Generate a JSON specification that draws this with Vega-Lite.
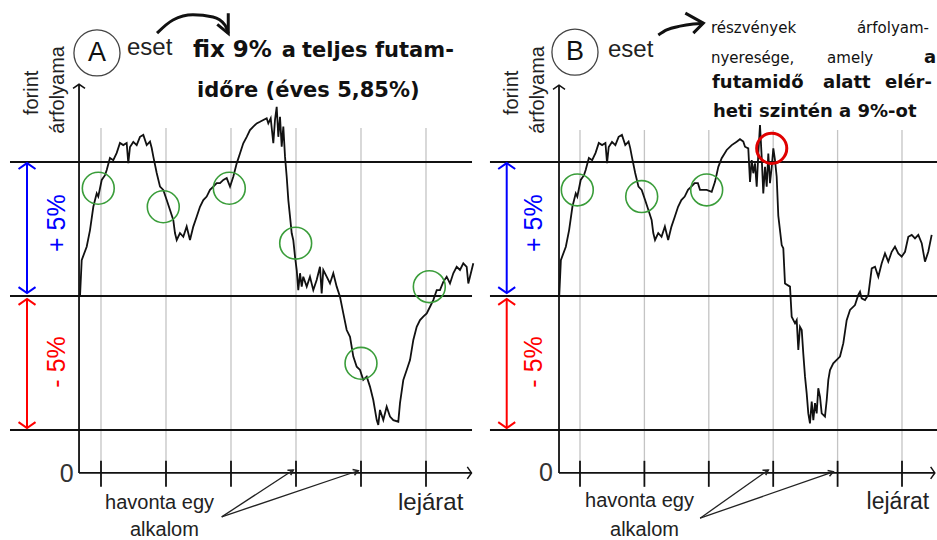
{
"$schema": "https://vega.github.io/schema/vega-lite/v6.json",
"padding": 0,
"spacing": 0,
"bounds": "flush",
"background": "white",
"config": {"view": {"stroke": null}},
"hconcat": [
{
"width": 480, "height": 540,
"encoding": {
 "x": {"field": "m", "type": "quantitative", "scale": {"domain": [-0.5538, 6.8308], "nice": false, "zero": false}, "axis": null},
 "y": {"field": "v", "type": "quantitative", "scale": {"domain": [-9.104, 11.045], "nice": false, "zero": false}, "axis": null}
},
"layer": [
 {"data": {"values": [{"m":1,"v":-6.6,"v2":6.27},{"m":2,"v":-6.6,"v2":6.27},{"m":3,"v":-6.6,"v2":6.27},{"m":4,"v":-6.6,"v2":6.27},{"m":5,"v":-6.6,"v2":6.27},{"m":6,"v":-6.6,"v2":6.27}]},
  "mark": {"type": "rule", "color": "#c4c4c4", "strokeWidth": 1.3},
  "encoding": {"y2": {"field": "v2"}}},
 {"data": {"values": [
   {"m":-0.4,"v":5,"m2":6.708,"v2":5},{"m":-0.4,"v":0,"m2":6.708,"v2":0},{"m":-0.4,"v":-5,"m2":6.708,"v2":-5},
   {"m":0.662,"v":-6.6,"m2":0.662,"v2":7.9},{"m":0.662,"v":-6.6,"m2":6.70,"v2":-6.6},
   {"m":1,"v":-6.15,"m2":1,"v2":-7.12},{"m":2,"v":-6.15,"m2":2,"v2":-7.12},{"m":3,"v":-6.15,"m2":3,"v2":-7.12},
   {"m":4,"v":-6.15,"m2":4,"v2":-7.12},{"m":5,"v":-6.15,"m2":5,"v2":-7.12},{"m":6,"v":-6.15,"m2":6,"v2":-7.12}]},
  "mark": {"type": "rule", "color": "#111", "strokeWidth": 1.8},
  "encoding": {"x2": {"field": "m2"}, "y2": {"field": "v2"}}},
 {"data": {"values": [{"m":0.662,"v":7.9,"irany":"fel"},{"m":6.70,"v":-6.6,"irany":"jobbra"}]},
  "mark": {"type": "point", "filled": false, "color": "#111", "strokeWidth": 1.5, "size": 144, "opacity": 1},
  "encoding": {"shape": {"field": "irany", "type": "nominal", "scale": {"domain": ["fel","le","jobbra"], "range": ["M -1 0.7 L 0 0 L 1 0.7","M -1 -0.7 L 0 0 L 1 -0.7","M -0.7 -1 L 0 0 L -0.7 1"]}, "legend": null}}},
 {"data": {"values": [{"m":-0.138,"v":4.96,"v2":0.11}]},
  "mark": {"type": "rule", "color": "#0000ff", "strokeWidth": 2},
  "encoding": {"y2": {"field": "v2"}}},
 {"data": {"values": [{"m":-0.138,"v":4.96,"irany":"fel"},{"m":-0.138,"v":0.11,"irany":"le"}]},
  "mark": {"type": "point", "filled": false, "color": "#0000ff", "strokeWidth": 2, "size": 289, "opacity": 1},
  "encoding": {"shape": {"field": "irany", "type": "nominal", "scale": {"domain": ["fel","le","jobbra"], "range": ["M -1 0.7 L 0 0 L 1 0.7","M -1 -0.7 L 0 0 L 1 -0.7","M -0.7 -1 L 0 0 L -0.7 1"]}, "legend": null}}},
 {"data": {"values": [{"m":-0.138,"v":-0.11,"v2":-4.93}]},
  "mark": {"type": "rule", "color": "#ff0000", "strokeWidth": 2},
  "encoding": {"y2": {"field": "v2"}}},
 {"data": {"values": [{"m":-0.138,"v":-0.11,"irany":"fel"},{"m":-0.138,"v":-4.93,"irany":"le"}]},
  "mark": {"type": "point", "filled": false, "color": "#ff0000", "strokeWidth": 2, "size": 289, "opacity": 1},
  "encoding": {"shape": {"field": "irany", "type": "nominal", "scale": {"domain": ["fel","le","jobbra"], "range": ["M -1 0.7 L 0 0 L 1 0.7","M -1 -0.7 L 0 0 L 1 -0.7","M -0.7 -1 L 0 0 L -0.7 1"]}, "legend": null}}},
 {"data": {"values": [{"m":2.857,"v":-8.24,"m2":3.958,"v2":-6.49},{"m":2.857,"v":-8.24,"m2":4.958,"v2":-6.52}]},
  "mark": {"type": "rule", "color": "#222", "strokeWidth": 1.3},
  "encoding": {"x2": {"field": "m2"}, "y2": {"field": "v2"}}},
 {"data": {"values": [{"m":3.958,"v":-6.49}]},
  "mark": {"type": "point", "filled": false, "color": "#222", "strokeWidth": 1.5, "size": 100, "angle": -33, "opacity": 1, "shape": "M -1 -0.6 L 0 0 L -1 0.6"}},
 {"data": {"values": [{"m":4.958,"v":-6.52}]},
  "mark": {"type": "point", "filled": false, "color": "#222", "strokeWidth": 1.5, "size": 100, "angle": -18.6, "opacity": 1, "shape": "M -1 -0.6 L 0 0 L -1 0.6"}},
 {"data": {"values": [
  {"m":0.677,"v":-0.03},{"m":0.703,"v":1.34},{"m":0.780,"v":1.84},{"m":0.831,"v":2.46},{"m":0.882,"v":3.33},{"m":0.934,"v":3.83},{"m":0.958,"v":3.71},{"m":1.011,"v":4.33},{"m":1.062,"v":4.51},{"m":1.088,"v":4.70},{"m":1.138,"v":5.15},{"m":1.189,"v":5.07},{"m":1.242,"v":5.34},{"m":1.292,"v":5.71},{"m":1.343,"v":5.63},{"m":1.395,"v":5.71},{"m":1.420,"v":4.96},{"m":1.446,"v":5.56},{"m":1.497,"v":5.75},{"m":1.549,"v":5.63},{"m":1.600,"v":5.94},{"m":1.651,"v":6.01},{"m":1.703,"v":5.63},{"m":1.754,"v":5.76},{"m":1.780,"v":5.52},{"m":1.805,"v":5.20},{"m":1.857,"v":4.59},{"m":1.908,"v":4.08},{"m":1.958,"v":3.96},{"m":2.011,"v":3.58},{"m":2.062,"v":3.21},{"m":2.112,"v":2.84},{"m":2.138,"v":2.35},{"m":2.165,"v":2.09},{"m":2.215,"v":2.35},{"m":2.266,"v":2.21},{"m":2.318,"v":2.59},{"m":2.369,"v":2.09},{"m":2.420,"v":2.59},{"m":2.472,"v":2.96},{"m":2.523,"v":3.33},{"m":2.574,"v":3.58},{"m":2.626,"v":3.71},{"m":2.677,"v":3.96},{"m":2.728,"v":4.08},{"m":2.780,"v":4.21},{"m":2.831,"v":4.21},{"m":2.882,"v":4.33},{"m":2.934,"v":4.40},{"m":2.985,"v":4.08},{"m":3.035,"v":4.45},{"m":3.088,"v":4.95},{"m":3.138,"v":5.32},{"m":3.189,"v":5.70},{"m":3.242,"v":5.94},{"m":3.292,"v":6.19},{"m":3.343,"v":6.32},{"m":3.395,"v":6.44},{"m":3.446,"v":6.50},{"m":3.497,"v":6.57},{"m":3.549,"v":6.63},{"m":3.574,"v":6.44},{"m":3.611,"v":6.63},{"m":3.651,"v":5.70},{"m":3.677,"v":6.57},{"m":3.703,"v":7.06},{"m":3.728,"v":5.94},{"m":3.754,"v":6.69},{"m":3.780,"v":5.57},{"m":3.805,"v":6.32},{"m":3.831,"v":5.20},{"m":3.857,"v":4.45},{"m":3.882,"v":3.58},{"m":3.908,"v":2.96},{"m":3.934,"v":2.34},{"m":3.958,"v":2.09},{"m":3.985,"v":1.47},{"m":4.011,"v":0.97},{"m":4.035,"v":0.22},{"m":4.062,"v":0.85},{"m":4.088,"v":0.35},{"m":4.112,"v":0.72},{"m":4.165,"v":0.35},{"m":4.215,"v":0.72},{"m":4.266,"v":0.22},{"m":4.318,"v":0.60},{"m":4.369,"v":1.09},{"m":4.395,"v":0.10},{"m":4.420,"v":0.97},{"m":4.472,"v":0.72},{"m":4.523,"v":0.47},{"m":4.574,"v":0.85},{"m":4.626,"v":0.35},{"m":4.677,"v":-0.03},{"m":4.728,"v":-0.65},{"m":4.780,"v":-1.27},{"m":4.831,"v":-1.52},{"m":4.882,"v":-2.26},{"m":4.934,"v":-2.64},{"m":4.985,"v":-2.76},{"m":5.035,"v":-3.13},{"m":5.088,"v":-3.01},{"m":5.138,"v":-3.38},{"m":5.189,"v":-3.88},{"m":5.242,"v":-4.63},{"m":5.266,"v":-4.81},{"m":5.292,"v":-4.25},{"m":5.343,"v":-4.63},{"m":5.395,"v":-4.13},{"m":5.446,"v":-4.50},{"m":5.497,"v":-4.63},{"m":5.574,"v":-4.69},{"m":5.600,"v":-4.00},{"m":5.651,"v":-3.13},{"m":5.703,"v":-2.76},{"m":5.754,"v":-2.39},{"m":5.805,"v":-1.64},{"m":5.857,"v":-1.15},{"m":5.908,"v":-0.90},{"m":5.958,"v":-0.77},{"m":6.011,"v":-0.65},{"m":6.062,"v":-0.40},{"m":6.112,"v":-0.15},{"m":6.165,"v":0.22},{"m":6.215,"v":0.22},{"m":6.266,"v":0.53},{"m":6.318,"v":0.72},{"m":6.369,"v":0.47},{"m":6.420,"v":0.85},{"m":6.472,"v":1.09},{"m":6.523,"v":0.97},{"m":6.574,"v":1.22},{"m":6.626,"v":1.09},{"m":6.651,"v":0.47},{"m":6.728,"v":1.22}]},
  "mark": {"type": "line", "color": "#111", "strokeWidth": 1.8},
  "encoding": {"order": {"field": "m", "type": "quantitative"}}},
 {"data": {"values": [{"m":0.958,"v":4.02},{"m":1.958,"v":3.33},{"m":2.974,"v":4.02},{"m":3.995,"v":1.97},{"m":5.0,"v":-2.51},{"m":6.051,"v":0.35}]},
  "mark": {"type": "point", "shape": "circle", "filled": false, "color": "#3a9d3a", "strokeWidth": 1.6, "size": 1018, "opacity": 1}},
 {"data": {"values": [{"m":0.938,"v":9.07}]},
  "mark": {"type": "point", "shape": "circle", "filled": false, "color": "#444", "strokeWidth": 1.3, "size": 2124, "opacity": 1}},
 {"data": {"values": [{"m":1.862,"v":9.81},{"m":2.108,"v":10.30},{"m":2.415,"v":10.49},{"m":2.723,"v":10.41},{"m":2.908,"v":10.11},{"m":2.958,"v":9.80}]},
  "mark": {"type": "line", "color": "#111", "strokeWidth": 3, "interpolate": "monotone"}},
 {"data": {"values": [{"m":2.958,"v":9.80}]},
  "mark": {"type": "point", "filled": false, "color": "#111", "strokeWidth": 3, "size": 400, "opacity": 1, "shape": "M 0 -2 L 0 0 L -1.1 -0.9"}},
 {"data": {"values": [{"m":1.062,"v":-7.72,"t":"havonta egy"},{"m":1.446,"v":-8.73,"t":"alkalom"}]},
  "mark": {"type": "text", "font": "Liberation Sans", "fontSize": 20, "align": "left", "baseline": "middle", "color": "#222"},
  "encoding": {"text": {"field": "t"}}},
 {"data": {"values": [{"m":5.569,"v":-7.72,"t":"lejárat"}]},
  "mark": {"type": "text", "font": "Liberation Sans", "fontSize": 24, "align": "left", "baseline": "middle", "color": "#222"},
  "encoding": {"text": {"field": "t"}}},
 {"data": {"values": [{"m":0.472,"v":-6.64,"t":"0"}]},
  "mark": {"type": "text", "font": "Liberation Sans", "fontSize": 25, "align": "center", "baseline": "middle", "color": "#333"},
  "encoding": {"text": {"field": "t"}}},
 {"data": {"values": [{"m":1.4,"v":9.27,"t":"eset"}]},
  "mark": {"type": "text", "font": "Liberation Sans", "fontSize": 24, "align": "left", "baseline": "middle", "color": "#222"},
  "encoding": {"text": {"field": "t"}}},
 {"data": {"values": [{"m":0.938,"v":9.07,"t":"A"}]},
  "mark": {"type": "text", "font": "Liberation Sans", "fontSize": 27, "align": "center", "baseline": "middle", "color": "#111"},
  "encoding": {"text": {"field": "t"}}},
 {"data": {"values": [{"m":-0.062,"v":7.58,"t":"forint"},{"m":0.338,"v":7.69,"t":"árfolyama"}]},
  "mark": {"type": "text", "font": "Liberation Sans", "fontSize": 20, "angle": 270, "align": "center", "baseline": "middle", "color": "#222"},
  "encoding": {"text": {"field": "t"}}},
 {"data": {"values": [{"m":0.323,"v":2.72,"t":"+ 5%"}]},
  "mark": {"type": "text", "font": "Liberation Sans", "fontSize": 25, "angle": 270, "align": "center", "baseline": "middle", "color": "#0000ff"},
  "encoding": {"text": {"field": "t"}}},
 {"data": {"values": [{"m":0.323,"v":-2.46,"t":"- 5%"}]},
  "mark": {"type": "text", "font": "Liberation Sans", "fontSize": 25, "angle": 270, "align": "center", "baseline": "middle", "color": "#ff0000"},
  "encoding": {"text": {"field": "t"}}},
 {"data": {"values": [{"m":2.415,"v":8.92,"t":"fix 9%"}]},
  "mark": {"type": "text", "font": "DejaVu Sans", "fontWeight": "bold", "fontSize": 23, "align": "left", "baseline": "alphabetic", "color": "#111"},
  "encoding": {"text": {"field": "t"}}},
 {"data": {"values": [{"m":3.78,"v":8.92,"t":"a"},{"m":4.092,"v":8.92,"t":"teljes"},{"m":5.215,"v":8.92,"t":"futam-"}]},
  "mark": {"type": "text", "font": "DejaVu Sans", "fontWeight": "bold", "fontSize": 21, "align": "left", "baseline": "alphabetic", "color": "#111"},
  "encoding": {"text": {"field": "t"}}},
 {"data": {"values": [{"m":2.477,"v":7.44,"t":"időre (éves 5,85%)"}]},
  "mark": {"type": "text", "font": "DejaVu Sans", "fontWeight": "bold", "fontSize": 21, "align": "left", "baseline": "alphabetic", "color": "#111"},
  "encoding": {"text": {"field": "t"}}}
]
},
{
"width": 457, "height": 540,
"encoding": {
 "x": {"field": "m", "type": "quantitative", "scale": {"domain": [-0.5528, 6.5435], "nice": false, "zero": false}, "axis": null},
 "y": {"field": "v", "type": "quantitative", "scale": {"domain": [-9.104, 11.045], "nice": false, "zero": false}, "axis": null}
},
"layer": [
 {"data": {"values": [{"m":1,"v":-6.6,"v2":6.19},{"m":2,"v":-6.6,"v2":6.19},{"m":3,"v":-6.6,"v2":6.19},{"m":4,"v":-6.6,"v2":6.19},{"m":5,"v":-6.6,"v2":6.19},{"m":6,"v":-6.6,"v2":6.19}]},
  "mark": {"type": "rule", "color": "#c4c4c4", "strokeWidth": 1.3},
  "encoding": {"y2": {"field": "v2"}}},
 {"data": {"values": [
   {"m":-0.398,"v":5,"m2":6.6,"v2":5},{"m":-0.398,"v":0,"m2":6.6,"v2":0},{"m":-0.398,"v":-5,"m2":6.6,"v2":-5},
   {"m":0.674,"v":-6.6,"m2":0.674,"v2":7.87},{"m":0.674,"v":-6.6,"m2":6.51,"v2":-6.6},
   {"m":1,"v":-6.15,"m2":1,"v2":-7.12},{"m":2,"v":-6.15,"m2":2,"v2":-7.12},{"m":3,"v":-6.15,"m2":3,"v2":-7.12},
   {"m":4,"v":-6.15,"m2":4,"v2":-7.12},{"m":5,"v":-6.15,"m2":5,"v2":-7.12},{"m":6,"v":-6.15,"m2":6,"v2":-7.12}]},
  "mark": {"type": "rule", "color": "#111", "strokeWidth": 1.8, "clip": true},
  "encoding": {"x2": {"field": "m2"}, "y2": {"field": "v2"}}},
 {"data": {"values": [{"m":0.674,"v":7.87,"irany":"fel"},{"m":6.51,"v":-6.6,"irany":"jobbra"}]},
  "mark": {"type": "point", "filled": false, "color": "#111", "strokeWidth": 1.5, "size": 144, "opacity": 1, "clip": true},
  "encoding": {"shape": {"field": "irany", "type": "nominal", "scale": {"domain": ["fel","le","jobbra"], "range": ["M -1 0.7 L 0 0 L 1 0.7","M -1 -0.7 L 0 0 L 1 -0.7","M -0.7 -1 L 0 0 L -0.7 1"]}, "legend": null}}},
 {"data": {"values": [{"m":-0.138,"v":4.96,"v2":0.11}]},
  "mark": {"type": "rule", "color": "#0000ff", "strokeWidth": 2},
  "encoding": {"y2": {"field": "v2"}}},
 {"data": {"values": [{"m":-0.138,"v":4.96,"irany":"fel"},{"m":-0.138,"v":0.11,"irany":"le"}]},
  "mark": {"type": "point", "filled": false, "color": "#0000ff", "strokeWidth": 2, "size": 289, "opacity": 1},
  "encoding": {"shape": {"field": "irany", "type": "nominal", "scale": {"domain": ["fel","le","jobbra"], "range": ["M -1 0.7 L 0 0 L 1 0.7","M -1 -0.7 L 0 0 L 1 -0.7","M -0.7 -1 L 0 0 L -0.7 1"]}, "legend": null}}},
 {"data": {"values": [{"m":-0.138,"v":-0.11,"v2":-4.93}]},
  "mark": {"type": "rule", "color": "#ff0000", "strokeWidth": 2},
  "encoding": {"y2": {"field": "v2"}}},
 {"data": {"values": [{"m":-0.138,"v":-0.11,"irany":"fel"},{"m":-0.138,"v":-4.93,"irany":"le"}]},
  "mark": {"type": "point", "filled": false, "color": "#ff0000", "strokeWidth": 2, "size": 289, "opacity": 1},
  "encoding": {"shape": {"field": "irany", "type": "nominal", "scale": {"domain": ["fel","le","jobbra"], "range": ["M -1 0.7 L 0 0 L 1 0.7","M -1 -0.7 L 0 0 L 1 -0.7","M -0.7 -1 L 0 0 L -0.7 1"]}, "legend": null}}},
 {"data": {"values": [{"m":2.865,"v":-8.29,"m2":3.924,"v2":-6.49},{"m":2.865,"v":-8.29,"m2":4.933,"v2":-6.56}]},
  "mark": {"type": "rule", "color": "#222", "strokeWidth": 1.3},
  "encoding": {"x2": {"field": "m2"}, "y2": {"field": "v2"}}},
 {"data": {"values": [{"m":3.924,"v":-6.49}]},
  "mark": {"type": "point", "filled": false, "color": "#222", "strokeWidth": 1.5, "size": 100, "angle": -33, "opacity": 1, "shape": "M -1 -0.6 L 0 0 L -1 0.6"}},
 {"data": {"values": [{"m":4.933,"v":-6.56}]},
  "mark": {"type": "point", "filled": false, "color": "#222", "strokeWidth": 1.5, "size": 100, "angle": -18.6, "opacity": 1, "shape": "M -1 -0.6 L 0 0 L -1 0.6"}},
 {"data": {"values": [
  {"m":0.677,"v":-0.03},{"m":0.703,"v":1.34},{"m":0.780,"v":1.84},{"m":0.831,"v":2.46},{"m":0.882,"v":3.33},{"m":0.934,"v":3.83},{"m":0.958,"v":3.71},{"m":1.011,"v":4.33},{"m":1.062,"v":4.51},{"m":1.088,"v":4.70},{"m":1.138,"v":5.15},{"m":1.189,"v":5.07},{"m":1.242,"v":5.34},{"m":1.292,"v":5.71},{"m":1.343,"v":5.63},{"m":1.395,"v":5.71},{"m":1.420,"v":4.96},{"m":1.446,"v":5.56},{"m":1.497,"v":5.75},{"m":1.549,"v":5.63},{"m":1.600,"v":5.94},{"m":1.651,"v":6.01},{"m":1.703,"v":5.63},{"m":1.754,"v":5.76},{"m":1.780,"v":5.52},{"m":1.805,"v":5.20},{"m":1.857,"v":4.59},{"m":1.908,"v":4.08},{"m":1.958,"v":3.96},{"m":2.011,"v":3.58},{"m":2.062,"v":3.21},{"m":2.112,"v":2.84},{"m":2.138,"v":2.35},{"m":2.165,"v":2.09},{"m":2.215,"v":2.35},{"m":2.266,"v":2.21},{"m":2.318,"v":2.59},{"m":2.369,"v":2.09},{"m":2.420,"v":2.59},{"m":2.472,"v":2.96},{"m":2.523,"v":3.33},{"m":2.574,"v":3.58},{"m":2.626,"v":3.71},{"m":2.677,"v":3.96},{"m":2.728,"v":4.08},{"m":2.780,"v":4.21},{"m":2.831,"v":4.21},
  {"m":2.863,"v":3.96},{"m":2.967,"v":3.96},{"m":3.045,"v":3.89},{"m":3.096,"v":4.26},{"m":3.148,"v":4.82},{"m":3.200,"v":5.14},{"m":3.278,"v":5.45},{"m":3.356,"v":5.63},{"m":3.433,"v":5.76},{"m":3.484,"v":5.85},{"m":3.536,"v":5.76},{"m":3.562,"v":5.57},{"m":3.613,"v":5.51},{"m":3.640,"v":4.26},{"m":3.666,"v":5.07},{"m":3.691,"v":4.58},{"m":3.717,"v":4.95},{"m":3.744,"v":4.08},{"m":3.769,"v":5.32},{"m":3.795,"v":6.38},{"m":3.821,"v":5.20},{"m":3.846,"v":3.83},{"m":3.873,"v":4.82},{"m":3.899,"v":4.08},{"m":3.924,"v":5.32},{"m":3.950,"v":4.21},{"m":3.977,"v":4.82},{"m":4.002,"v":5.51},{"m":4.028,"v":5.07},{"m":4.054,"v":4.45},{"m":4.079,"v":3.00},{"m":4.132,"v":1.90},{"m":4.157,"v":1.78},{"m":4.183,"v":0.47},{"m":4.261,"v":0.35},{"m":4.287,"v":-0.77},{"m":4.339,"v":-1.02},{"m":4.365,"v":-0.90},{"m":4.390,"v":-2.01},{"m":4.416,"v":-1.15},{"m":4.443,"v":-1.27},{"m":4.467,"v":-2.14},{"m":4.494,"v":-3.01},{"m":4.520,"v":-3.63},{"m":4.545,"v":-4.38},{"m":4.571,"v":-4.75},{"m":4.598,"v":-3.94},{"m":4.623,"v":-4.63},{"m":4.649,"v":-4.00},{"m":4.675,"v":-4.38},{"m":4.700,"v":-3.44},{"m":4.727,"v":-3.76},{"m":4.753,"v":-4.38},{"m":4.804,"v":-4.50},{"m":4.831,"v":-3.88},{"m":4.856,"v":-3.13},{"m":4.882,"v":-2.76},{"m":4.933,"v":-2.51},{"m":5.037,"v":-2.26},{"m":5.089,"v":-1.76},{"m":5.141,"v":-0.90},{"m":5.193,"v":-0.52},{"m":5.270,"v":-0.34},{"m":5.321,"v":0.04},{"m":5.348,"v":0.16},{"m":5.374,"v":-0.09},{"m":5.425,"v":-0.15},{"m":5.477,"v":0.04},{"m":5.530,"v":1.03},{"m":5.581,"v":1.09},{"m":5.632,"v":0.72},{"m":5.685,"v":1.22},{"m":5.736,"v":1.59},{"m":5.787,"v":1.28},{"m":5.840,"v":1.65},{"m":5.891,"v":1.84},{"m":5.942,"v":1.59},{"m":5.995,"v":1.47},{"m":6.047,"v":1.65},{"m":6.098,"v":2.21},{"m":6.151,"v":2.28},{"m":6.202,"v":2.15},{"m":6.253,"v":2.28},{"m":6.306,"v":1.97},{"m":6.357,"v":1.28},{"m":6.408,"v":1.65},{"m":6.461,"v":2.28}]},
  "mark": {"type": "line", "color": "#111", "strokeWidth": 1.8},
  "encoding": {"order": {"field": "m", "type": "quantitative"}}},
 {"data": {"values": [{"m":0.958,"v":3.96},{"m":1.958,"v":3.71},{"m":2.967,"v":3.96}]},
  "mark": {"type": "point", "shape": "circle", "filled": false, "color": "#3a9d3a", "strokeWidth": 1.6, "size": 1018, "opacity": 1}},
 {"data": {"values": [{"m":3.977,"v":5.51}]},
  "mark": {"type": "point", "shape": "circle", "filled": false, "color": "#e00000", "strokeWidth": 3, "size": 908, "opacity": 1}},
 {"data": {"values": [{"m":0.922,"v":9.10}]},
  "mark": {"type": "point", "shape": "circle", "filled": false, "color": "#444", "strokeWidth": 1.3, "size": 2124, "opacity": 1}},
 {"data": {"values": [{"m":2.216,"v":9.74},{"m":2.346,"v":9.93},{"m":2.553,"v":10.07},{"m":2.759,"v":10.15},{"m":2.915,"v":10.18}]},
  "mark": {"type": "line", "color": "#111", "strokeWidth": 3, "interpolate": "monotone"}},
 {"data": {"values": [{"m":2.915,"v":10.18}]},
  "mark": {"type": "point", "filled": false, "color": "#111", "strokeWidth": 3, "size": 400, "opacity": 1, "shape": "M -1.8 -1 L 0 0 L -1 1"}},
 {"data": {"values": [{"m":1.078,"v":-7.65,"t":"havonta egy"},{"m":1.466,"v":-8.73,"t":"alkalom"}]},
  "mark": {"type": "text", "font": "Liberation Sans", "fontSize": 20, "align": "left", "baseline": "middle", "color": "#222"},
  "encoding": {"text": {"field": "t"}}},
 {"data": {"values": [{"m":5.45,"v":-7.68,"t":"lejárat"}]},
  "mark": {"type": "text", "font": "Liberation Sans", "fontSize": 23, "align": "left", "baseline": "middle", "color": "#222"},
  "encoding": {"text": {"field": "t"}}},
 {"data": {"values": [{"m":0.472,"v":-6.62,"t":"0"}]},
  "mark": {"type": "text", "font": "Liberation Sans", "fontSize": 25, "align": "center", "baseline": "middle", "color": "#333"},
  "encoding": {"text": {"field": "t"}}},
 {"data": {"values": [{"m":1.435,"v":9.18,"t":"eset"}]},
  "mark": {"type": "text", "font": "Liberation Sans", "fontSize": 24, "align": "left", "baseline": "middle", "color": "#222"},
  "encoding": {"text": {"field": "t"}}},
 {"data": {"values": [{"m":0.922,"v":9.10,"t":"B"}]},
  "mark": {"type": "text", "font": "Liberation Sans", "fontSize": 27, "align": "center", "baseline": "middle", "color": "#111"},
  "encoding": {"text": {"field": "t"}}},
 {"data": {"values": [{"m":-0.056,"v":7.58,"t":"forint"},{"m":0.348,"v":7.69,"t":"árfolyama"}]},
  "mark": {"type": "text", "font": "Liberation Sans", "fontSize": 20, "angle": 270, "align": "center", "baseline": "middle", "color": "#222"},
  "encoding": {"text": {"field": "t"}}},
 {"data": {"values": [{"m":0.29,"v":2.72,"t":"+ 5%"}]},
  "mark": {"type": "text", "font": "Liberation Sans", "fontSize": 25, "angle": 270, "align": "center", "baseline": "middle", "color": "#0000ff"},
  "encoding": {"text": {"field": "t"}}},
 {"data": {"values": [{"m":0.29,"v":-2.46,"t":"- 5%"}]},
  "mark": {"type": "text", "font": "Liberation Sans", "fontSize": 25, "angle": 270, "align": "center", "baseline": "middle", "color": "#ff0000"},
  "encoding": {"text": {"field": "t"}}},
 {"data": {"values": [{"m":3.034,"v":9.80,"t":"részvények"},{"m":5.30,"v":9.80,"t":"árfolyam-"},{"m":3.034,"v":8.68,"t":"nyeresége,"},{"m":4.837,"v":8.68,"t":"amely"}]},
  "mark": {"type": "text", "font": "DejaVu Sans", "fontSize": 15, "align": "left", "baseline": "alphabetic", "color": "#111", "clip": true},
  "encoding": {"text": {"field": "t"}}},
 {"data": {"values": [{"m":6.34,"v":8.68,"t":"a"},{"m":3.050,"v":7.75,"t":"futamidő"},{"m":4.773,"v":7.75,"t":"alatt"},{"m":5.736,"v":7.75,"t":"elér-"},{"m":3.065,"v":6.69,"t":"heti szintén a 9%-ot"}]},
  "mark": {"type": "text", "font": "DejaVu Sans", "fontWeight": "bold", "fontSize": 18, "align": "left", "baseline": "alphabetic", "color": "#111", "clip": true},
  "encoding": {"text": {"field": "t"}}}
]
}
]
}
